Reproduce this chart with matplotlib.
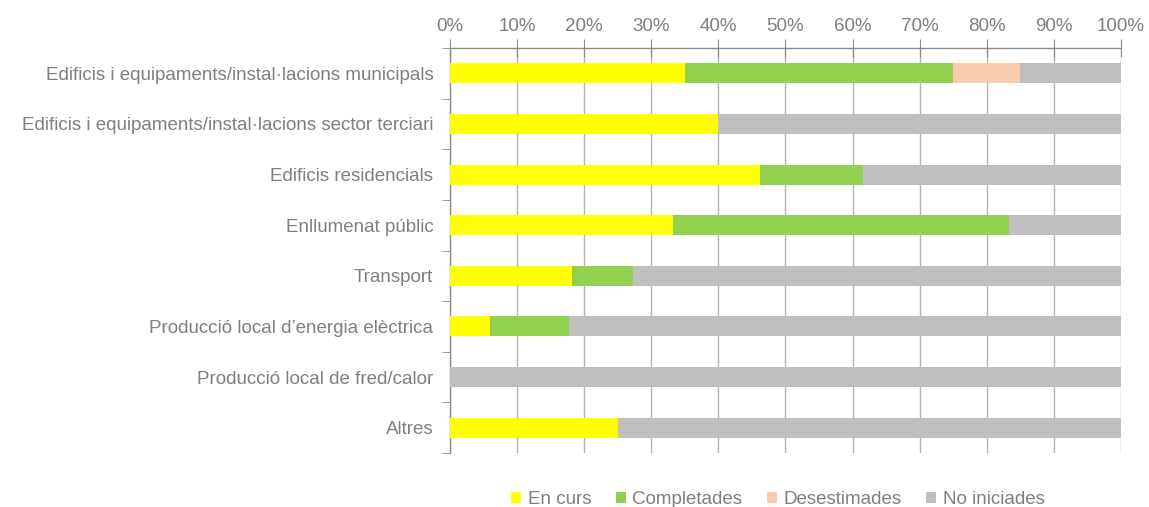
import matplotlib.pyplot as plt
import numpy as np

plt.rcParams['font.family'] = ['Liberation Sans', 'DejaVu Sans']

# dades
categories = [
    "Edificis i equipaments/instal·lacions municipals",
    "Edificis i equipaments/instal·lacions sector terciari",
    "Edificis residencials",
    "Enllumenat públic",
    "Transport",
    "Producció local d’energia elèctrica",
    "Producció local de fred/calor",
    "Altres",
]
en_curs = [35.0, 40.0, 46.2, 33.3, 18.2, 5.9, 0.0, 25.0]
completades = [40.0, 0.0, 15.4, 50.0, 9.1, 11.8, 0.0, 0.0]
desestimades = [10.0, 0.0, 0.0, 0.0, 0.0, 0.0, 0.0, 0.0]
no_iniciades = [15.0, 60.0, 38.4, 16.7, 72.7, 82.3, 100.0, 75.0]

series = [
    ("En curs", en_curs, "#FFFF00"),
    ("Completades", completades, "#92D050"),
    ("Desestimades", desestimades, "#F8CBAD"),
    ("No iniciades", no_iniciades, "#BFBFBF"),
]

text_color = "#7f7f7f"
axis_color = "#8c8c8c"
fs = 13.5

fig = plt.figure(figsize=(11.49, 5.07), dpi=100)
ax = fig.add_axes([0.3916, 0.1065, 0.9756 - 0.3916, 0.9053 - 0.1065])

y = np.arange(len(categories))
left = np.zeros(len(categories))
for name, vals, col in series:
    vals = np.array(vals)
    ax.barh(y, vals, left=left, height=0.395, color=col, label=name, zorder=3)
    left += vals

ax.set_xlim(0, 100)
ax.set_ylim(len(categories) - 0.5, -0.5)

# eix x a dalt
ax.xaxis.tick_top()
ax.set_xticks(np.arange(0, 101, 10))
ax.set_xticklabels([f"{v}%" for v in range(0, 101, 10)])
ax.tick_params(axis='x', direction='inout', length=13, color=axis_color,
               labelcolor=text_color, labelsize=fs, pad=3)
ax.grid(axis='x', color="#b3b3b3", linewidth=1, zorder=0)

# eix y
ax.set_yticks(y)
ax.set_yticklabels(categories)
ax.set_yticks(np.arange(-0.5, len(categories)), minor=True)
ax.tick_params(axis='y', which='major', length=0, labelcolor=text_color,
               labelsize=fs, pad=12)
ax.tick_params(axis='y', which='minor', length=6, color=axis_color)

for s in ['right', 'bottom']:
    ax.spines[s].set_visible(False)
for s in ['top', 'left']:
    ax.spines[s].set_color(axis_color)
    ax.spines[s].set_linewidth(1)

leg = fig.legend(loc='lower center', bbox_to_anchor=(0.677, -0.035), ncol=4,
                 frameon=False, fontsize=fs, handlelength=0.55, handleheight=0.55,
                 handletextpad=0.35, columnspacing=1.3)
for t in leg.get_texts():
    t.set_color(text_color)

fig.savefig("out.png", dpi=100)
